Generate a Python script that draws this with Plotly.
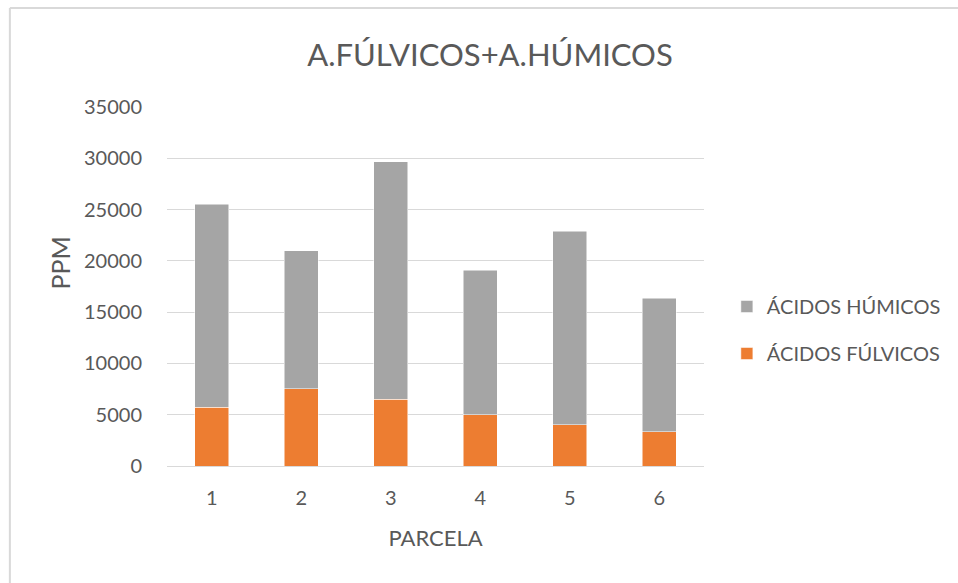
import plotly.graph_objects as go

parcelas = ["1", "2", "3", "4", "5", "6"]
fulvicos = [5750, 7520, 6500, 5000, 4020, 3360]
humicos = [19750, 13480, 23150, 14090, 18860, 12980]
y_ticks = [0, 5000, 10000, 15000, 20000, 25000, 30000, 35000]

FONT = "Lato, 'Open Sans', sans-serif"
TXT = "#595959"
BORDER = "#d9d9d9"

W, H = 958, 583
L, R, T, B = 167, 251, 107, 117
PW, PH = W - L - R, H - T - B

fig = go.Figure()
fig.add_trace(go.Bar(x=parcelas, y=fulvicos, name="ÁCIDOS FÚLVICOS",
                     marker=dict(color="#ED7D31", line=dict(color="white", width=0.5)),
                     legendgroup="f", legendrank=2))
fig.add_trace(go.Bar(x=parcelas, y=humicos, name="ÁCIDOS HÚMICOS",
                     marker=dict(color="#A5A5A5", line=dict(color="white", width=0.5)),
                     legendgroup="h", legendrank=1))

px_x = lambda v: (v - L) / PW
px_y = lambda v: (T + PH - v) / PH

fig.update_layout(
    barmode="stack",
    bargap=0.62,
    width=W, height=H,
    margin=dict(l=L, r=R, t=T, b=B),
    paper_bgcolor="white", plot_bgcolor="white",
    font=dict(family=FONT, color=TXT, size=20),
    title=dict(text="A.FÚLVICOS+A.HÚMICOS", x=490 / W, xref="container", xanchor="center",
               y=1 - 55 / H, yref="container", yanchor="middle",
               font=dict(size=31, color=TXT, family=FONT)),
    legend=dict(x=px_x(730), y=px_y(330), xanchor="left", yanchor="middle",
                traceorder="grouped", tracegroupgap=18, itemwidth=30,
                font=dict(size=20, color=TXT, family=FONT)),
    xaxis=dict(title=dict(text="PARCELA", font=dict(size=22, color=TXT), standoff=22),
               showgrid=False, ticks="", showline=True, linecolor=BORDER,
               tickfont=dict(size=20), ticklabelstandoff=14),
    yaxis=dict(range=[0, 35000], tickvals=y_ticks, ticktext=[str(v) for v in y_ticks],
               showgrid=True, gridcolor=BORDER, gridwidth=1,
               zeroline=True, zerolinecolor=BORDER, zerolinewidth=1,
               ticks="", ticklabelstandoff=24, tickfont=dict(size=20)),
    annotations=[dict(text="PPM", xref="paper", yref="paper", x=px_x(59), y=px_y(263),
                      xanchor="center", yanchor="middle", textangle=-90, showarrow=False,
                      font=dict(size=25, color=TXT, family=FONT))],
    shapes=[
        dict(type="line", xref="paper", yref="paper",
             x0=px_x(9), x1=px_x(W + 20), y0=px_y(8), y1=px_y(8),
             line=dict(color=BORDER, width=2), layer="below"),
        dict(type="line", xref="paper", yref="paper",
             x0=px_x(9), x1=px_x(9), y0=px_y(8), y1=px_y(H + 20),
             line=dict(color=BORDER, width=2), layer="below"),
    ],
)

fig.write_html("out.html",
               config={"displayModeBar": False},
               post_script="document.body.style.margin='0';"
                           "document.body.style.overflow='hidden';")
